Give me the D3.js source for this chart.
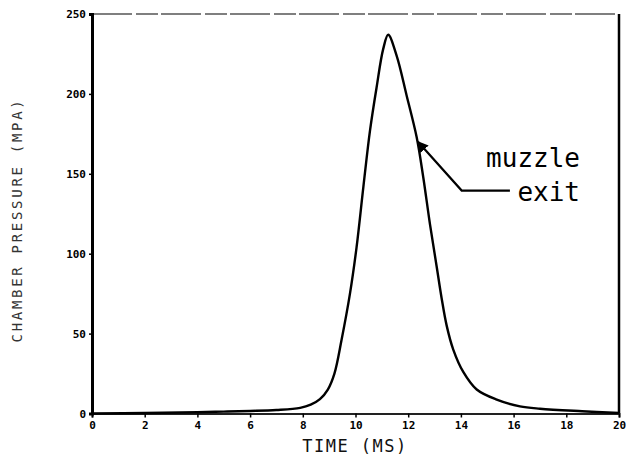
<!DOCTYPE html>
<html>
<head>
<meta charset="utf-8">
<script src="https://cdn.jsdelivr.net/npm/d3@7"></script>
<style>
	body { margin: 0; background: #fff; }
	svg { display: block; }
</style>
</head>
<body>
<svg width="626" height="461"></svg>
<script>
// chamber pressure trace
const timeMs = [0, 2, 4, 5, 6, 7, 7.9, 8.3, 8.65, 8.95, 9.2, 9.47, 9.79, 10.04, 10.3, 10.55, 10.8, 11.05, 11.24, 11.56, 11.94, 12.32, 12.57, 12.83, 13.08, 13.27, 13.46, 13.71, 14.09, 14.6, 15.36, 16.24, 17, 18.6, 20];
const pressureMPa = [0, 0.3, 0.8, 1.2, 1.6, 2.2, 3.5, 5.5, 9, 15, 25, 46, 75, 104, 142, 177, 204, 228, 237, 224, 199, 173, 148, 118, 92, 72, 55, 40, 26, 15, 8.7, 4.5, 3, 1.4, 0.3];

const xTicks = [0, 2, 4, 6, 8, 10, 12, 14, 16, 18, 20];
const yTicks = [0, 50, 100, 150, 200, 250];

// muzzle exit arrow: tip, elbow, end (time, pressure)
const arrowTime = [12.37, 14.03, 15.86];
const arrowPressure = [170, 139.5, 139.5];
const annotationLines = ["muzzle", "exit"];

const svg = d3.select("svg");
const margin = { top: 14, right: 7, bottom: 47.5, left: 92 };
const width = +svg.attr("width") - margin.left - margin.right;
const height = +svg.attr("height") - margin.top - margin.bottom;

const x = d3.scaleLinear().domain([0, 20]).range([0, width]);
const y = d3.scaleLinear().domain([0, 250]).range([height, 0]);

const g = svg.append("g").attr("transform", `translate(${margin.left},${margin.top})`);

// frame
g.append("line")
	.attr("x1", 0).attr("x2", width).attr("y1", 0).attr("y2", 0)
	.attr("stroke", "#555").attr("stroke-width", 1.3)
	.attr("stroke-dasharray", "40 4 22 3");
g.append("line")
	.attr("x1", width).attr("x2", width).attr("y1", 0).attr("y2", height)
	.attr("stroke", "#000").attr("stroke-width", 2.5);

const xAxis = g.append("g")
	.attr("transform", `translate(0,${height})`)
	.call(d3.axisBottom(x).tickValues(xTicks).tickSize(4).tickPadding(4).tickFormat(d3.format("d")));
xAxis.select(".domain").attr("stroke", "#222").attr("stroke-width", 2);

const yAxis = g.append("g")
	.call(d3.axisLeft(y).tickValues(yTicks).tickSize(3).tickPadding(3).tickFormat(d3.format("d")));
yAxis.select(".domain").attr("stroke", "#000").attr("stroke-width", 3);

g.selectAll(".tick text")
	.attr("font-family", "DejaVu Sans Mono")
	.attr("font-weight", "bold")
	.attr("font-size", 11)
	.attr("fill", "#000");
g.selectAll(".tick line").attr("stroke", "#000").attr("stroke-width", 1.5);

// pressure curve
const data = timeMs.map((t, i) => ({ t, p: pressureMPa[i] }));
const line = d3.line()
	.x((d) => x(d.t))
	.y((d) => y(d.p))
	.curve(d3.curveCatmullRom.alpha(0.5));

g.append("path")
	.datum(data)
	.attr("d", line)
	.attr("fill", "none")
	.attr("stroke", "#000")
	.attr("stroke-width", 2.4)
	.attr("stroke-linejoin", "round");

// annotation arrow
svg.append("defs").append("marker")
	.attr("id", "head")
	.attr("viewBox", "0 0 10 10")
	.attr("refX", 9).attr("refY", 5)
	.attr("markerWidth", 5).attr("markerHeight", 5)
	.attr("markerUnits", "strokeWidth")
	.attr("orient", "auto-start-reverse")
	.append("path")
	.attr("d", "M0,0 L10,5 L0,10 Z")
	.attr("fill", "#000");

const arrowPts = arrowTime.map((t, i) => [x(t), y(arrowPressure[i])]);
g.append("path")
	.attr("d", d3.line()(arrowPts))
	.attr("fill", "none")
	.attr("stroke", "#000")
	.attr("stroke-width", 2.2)
	.attr("marker-start", "url(#head)");

g.selectAll(".annot")
	.data(annotationLines)
	.enter()
	.append("text")
	.attr("class", "annot")
	.attr("x", 488)
	.attr("y", (d, i) => 153 + i * 34)
	.attr("text-anchor", "end")
	.attr("font-family", "DejaVu Sans Mono")
	.attr("font-size", 26)
	.attr("fill", "#000")
	.text((d) => d);

// axis titles
svg.append("text")
	.attr("x", 355)
	.attr("y", 452)
	.attr("text-anchor", "middle")
	.attr("font-family", "DejaVu Sans Mono")
	.attr("font-size", 17)
	.attr("letter-spacing", 1.5)
	.attr("fill", "#111")
	.text("TIME (MS)");

svg.append("text")
	.attr("transform", "translate(22,220) rotate(-90)")
	.attr("text-anchor", "middle")
	.attr("font-family", "DejaVu Sans Mono")
	.attr("font-size", 14)
	.attr("letter-spacing", 2.7)
	.attr("fill", "#333")
	.text("CHAMBER PRESSURE (MPA)");
</script>
</body>
</html>
